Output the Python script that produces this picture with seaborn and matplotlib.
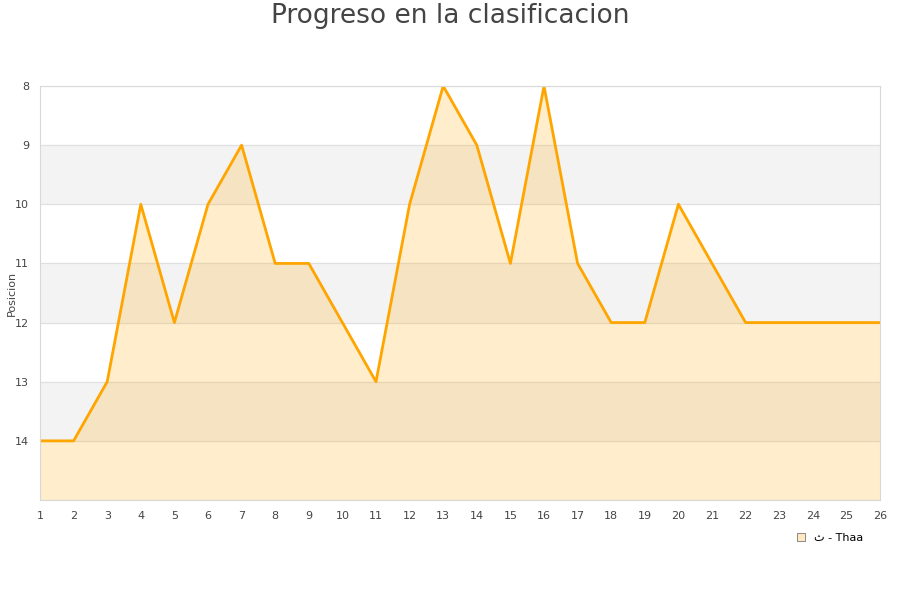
import pandas as pd
import matplotlib.pyplot as plt
import seaborn as sns

jornadas = list(range(1, 27))
posiciones = [14, 14, 13, 10, 12, 10, 9, 11, 11, 12, 13, 10, 8, 9, 11, 8, 11, 12, 12, 10, 11, 12, 12, 12, 12, 12]
equipo = "ث - Thaa"

df = pd.DataFrame({"jornada": jornadas, "posicion": posiciones})

sns.set_style("white")
fig = plt.figure(figsize=(9, 6), dpi=100)
ax = fig.add_axes([40 / 900, 100 / 600, 840 / 900, 414 / 600])

# bandas grises alternas
for y0 in [9, 11, 13]:
    ax.axhspan(y0, y0 + 1, color="#f3f3f3", zorder=0)
for y in range(8, 16):
    ax.axhline(y, color="#e0e0e0", lw=0.8, zorder=0.5)

ax.fill_between(df["jornada"], df["posicion"], 15, color="#ffa500", alpha=0.2, lw=0, zorder=1)
sns.lineplot(data=df, x="jornada", y="posicion", color="#ffa500", lw=2, ax=ax, zorder=2)

ax.set_xlim(1, 26)
ax.set_ylim(15, 8)
ax.set_xticks(jornadas)
ax.set_yticks(range(8, 15))
ax.tick_params(labelsize=8, colors="#444444", length=0, pad=8)
ax.set_xlabel("")
ax.set_ylabel("Posicion", fontsize=8, color="#444444")
ax.yaxis.set_label_coords(-0.028, 0.5)
for s in ax.spines.values():
    s.set_color("#d8d8d8")

fig.suptitle("Progreso en la clasificacion", fontsize=19, color="#444444", y=0.995)

h = plt.Rectangle((0, 0), 1, 1, facecolor="#ffe9c2", edgecolor="#777777", lw=0.6)
leg = fig.legend([h], [equipo], loc="center", bbox_to_anchor=(830 / 900, 1 - 538 / 600),
                 frameon=False, fontsize=8, handlelength=0.7, handleheight=0.7, handletextpad=0.8)
for t in leg.get_texts():
    t.set_color("black")

fig.savefig("out.png")
